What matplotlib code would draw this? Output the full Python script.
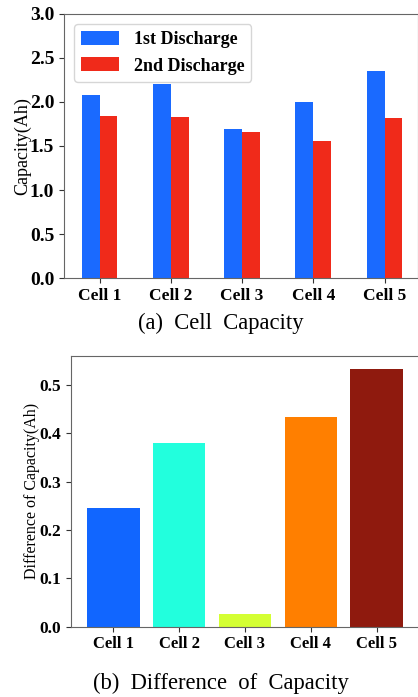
import matplotlib
matplotlib.use("Agg")
import matplotlib.pyplot as plt
import numpy as np

cells = ["Cell 1", "Cell 2", "Cell 3", "Cell 4", "Cell 5"]
first_discharge = [2.08, 2.21, 1.69, 2.00, 2.35]
second_discharge = [1.84, 1.83, 1.66, 1.56, 1.815]
difference = [0.246, 0.381, 0.026, 0.434, 0.533]
diff_colors = ["#1166ff", "#22ffdd", "#d4ff33", "#ff7f00", "#8f1a0e"]

plt.rcParams['font.family'] = ['Liberation Serif', 'DejaVu Serif']

fig = plt.figure(figsize=(4.18, 6.97), dpi=100)
W, H = 418, 697

# top axes
ax1 = fig.add_axes([64 / W, 1 - 278 / H, (418 - 64) / W, (278 - 14) / H])
x = np.arange(len(cells))
w = 0.25
ax1.bar(x - w / 2, first_discharge, w, color="#1a6aff", label="1st Discharge")
ax1.bar(x + w / 2, second_discharge, w, color="#f02a1a", label="2nd Discharge")
ax1.set_ylim(0, 3.0)
ax1.set_xlim(-0.5, 4.47)
ax1.set_xticks(x)
ax1.set_xticklabels(cells, fontsize=12.5, fontweight="bold")
ax1.set_yticks(np.arange(0, 3.01, 0.5))
ax1.set_yticklabels([f"{v:.1f}" for v in np.arange(0, 3.01, 0.5)], fontsize=14, fontweight="bold")
ax1.set_ylabel("Capacity(Ah)", fontsize=13, labelpad=-1)
leg = ax1.legend(loc="upper left", prop={"size": 13, "weight": "bold"},
                 handlelength=2.1, handleheight=0.8, borderaxespad=0.55)
for s in ax1.spines.values():
    s.set_color("#666666")
ax1.tick_params(colors="#333333", labelcolor="black")

fig.text(221 / W, 1 - 323 / H, "(a)  Cell  Capacity", ha="center", va="center", fontsize=16.3)

# bottom axes
ax2 = fig.add_axes([71 / W, 1 - 626.7 / H, (419 - 71) / W, (626.7 - 356) / H])
ax2.bar(x, difference, 0.8, color=diff_colors)
ax2.set_ylim(0, 0.56)
ax2.set_xticks(x)
ax2.set_xticklabels(cells, fontsize=12, fontweight="bold")
yt = [0.0, 0.1, 0.2, 0.3, 0.4, 0.5]
ax2.set_yticks(yt)
ax2.set_yticklabels([f"{v:.1f}" for v in yt], fontsize=12.5, fontweight="bold")
ax2.set_ylabel("Difference of Capacity(Ah)", fontsize=11.5, labelpad=0)
for s in ax2.spines.values():
    s.set_color("#666666")
ax2.tick_params(colors="#333333", labelcolor="black")

fig.text(221 / W, 1 - 683 / H, "(b)  Difference  of  Capacity", ha="center", va="center", fontsize=16.3)

fig.savefig("out.png", dpi=100)
